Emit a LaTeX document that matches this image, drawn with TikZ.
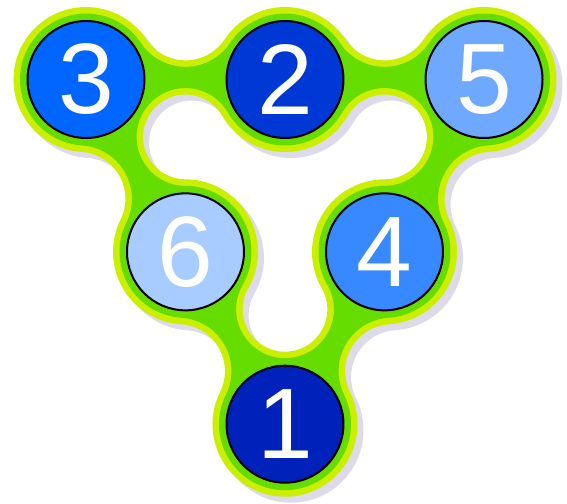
\documentclass[tikz,border=0pt]{standalone}
\usepackage{fontspec}
\setmainfont{Liberation Sans}
\definecolor{rimyellow}{RGB}{204,238,0}
\definecolor{bodygreen}{RGB}{102,221,0}
\definecolor{dropshadow}{RGB}{220,218,235}
\definecolor{ballone}{RGB}{0,34,187}
\definecolor{balltwo}{RGB}{0,56,214}
\definecolor{ballthree}{RGB}{0,102,255}
\definecolor{ballfour}{RGB}{56,136,255}
\definecolor{ballfive}{RGB}{110,168,255}
\definecolor{ballsix}{RGB}{168,204,255}
\tikzset{
  ball/.style = {
    circle, draw=black, line width=0.04cm, minimum size=2.34cm,
    inner sep=0pt, text=white, font=\fontsize{57}{57}\selectfont
  }
}
% outline of the ring of six discs: #1 disc radius, #2 fillet radius, #3 lobe radius
\newcommand{\blobpath}[3]{%
  (270:\Vtx) ++(120+\Alpha:#1)
  arc[start angle=120+\Alpha, end angle=420-\Alpha, radius=#1]
  arc[start angle=240-\Alpha, end angle=60+\Alpha, radius=#2]
  arc[start angle=240+\Alpha, end angle=420-\Alpha, radius=#1]
  arc[start angle=240-\Alpha, end angle=60+\Alpha, radius=#2]
  arc[start angle=240+\Alpha, end angle=540-\Alpha, radius=#1]
  arc[start angle=360-\Alpha, end angle=180+\Alpha, radius=#2]
  arc[start angle=\Alpha, end angle=180-\Alpha, radius=#1]
  arc[start angle=360-\Alpha, end angle=180+\Alpha, radius=#2]
  arc[start angle=\Alpha, end angle=300-\Alpha, radius=#1]
  arc[start angle=480-\Alpha, end angle=300+\Alpha, radius=#2]
  arc[start angle=120+\Alpha, end angle=300-\Alpha, radius=#1]
  arc[start angle=480-\Alpha, end angle=300+\Alpha, radius=#2]
  -- cycle
  (150:\Mid) ++(30:#3)
  arc[start angle=30, end angle=270, radius=#3]
  arc[start angle=90, end angle=-30, radius=#1]
  arc[start angle=150, end angle=390, radius=#3]
  arc[start angle=210, end angle=90, radius=#1]
  arc[start angle=270, end angle=510, radius=#3]
  arc[start angle=-30, end angle=-150, radius=#1]
  -- cycle}

\begin{document}
\begin{tikzpicture}[x=0.02cm,y=0.02cm]
  \pgfmathsetmacro{\Vtx}{229.8};
  \pgfmathsetmacro{\Mid}{\Vtx/2};
  \pgfmathsetmacro{\Half}{99.5};
  \pgfmathsetmacro{\DiscR}{72.5};
  \pgfmathsetmacro{\FilletR}{47};
  \pgfmathsetmacro{\Alpha}{atan(sqrt((\DiscR+\FilletR)^2-\Half^2)/\Half)};
  \pgfmathsetmacro{\LobeR}{\Mid-\DiscR};
  \pgfmathsetmacro{\Band}{6.5};
  \pgfmathsetmacro{\DiscRg}{\DiscR-\Band};
  \pgfmathsetmacro{\FilletRg}{\FilletR+\Band};
  \pgfmathsetmacro{\LobeRg}{\LobeR+\Band};
  %
  \useasboundingbox (-285,-308.6) rectangle (282,194.4);
  % shadow
  \begin{scope}[shift={(6,-6)}]
    \fill[dropshadow,even odd rule] \blobpath{\DiscR}{\FilletR}{\LobeR};
  \end{scope}
  % rim and body
  \fill[rimyellow,even odd rule] \blobpath{\DiscR}{\FilletR}{\LobeR};
  \fill[bodygreen,even odd rule] \blobpath{\DiscRg}{\FilletRg}{\LobeRg};
  % balls
  \node[ball,fill=ballthree] (b3) at (150:\Vtx) {3};
  \node[ball,fill=balltwo]   (b2) at (90:\Mid)  {2};
  \node[ball,fill=ballfive]  (b5) at (30:\Vtx)  {5};
  \node[ball,fill=ballsix]   (b6) at (210:\Mid) {6};
  \node[ball,fill=ballfour]  (b4) at (330:\Mid) {4};
  \node[ball,fill=ballone]   (b1) at (270:\Vtx) {1};
\end{tikzpicture}
\end{document}
